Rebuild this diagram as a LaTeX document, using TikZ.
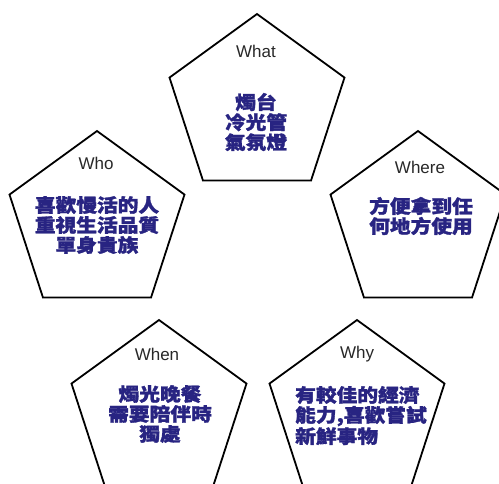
\documentclass[tikz,border=0pt]{standalone}
\usepackage{fontspec}
\setmainfont{Liberation Sans}
\newfontfamily\cjk{Noto Sans CJK TC}[FakeStretch=1.12, BoldFeatures={FakeBold=1.6}]
\usetikzlibrary{shapes.geometric}
\definecolor{navy}{RGB}{40,36,130}
\definecolor{titlegray}{RGB}{40,40,40}
\tikzset{
  penta/.style={regular polygon, regular polygon sides=5, minimum size=184pt,
    inner sep=0pt, draw=black, line width=1.8pt},
  ttl/.style={font=\fontsize{17}{20}\selectfont, text=titlegray, inner sep=0pt},
  body/.style={font=\cjk\bfseries\fontsize{18.5}{20}\selectfont, text=navy,
    align=center, inner sep=0pt},
}
\begin{document}
\begin{tikzpicture}[x=1pt,y=-1pt]
\useasboundingbox (0,0) rectangle (499,483);
\clip (0,0) rectangle (499,483);
\fill[white] (0,0) rectangle (499,483);
% pentagons
\node[penta] (pwhat)  at (257,106) {};
\node[penta] (pwho)   at (97,223) {};
\node[penta] (pwhere) at (418,223) {};
\node[penta] (pwhen)  at (159,412) {};
\node[penta] (pwhy)   at (357,412) {};
% titles
\node[ttl] (twhat)  at (256,51)  {What};
\node[ttl] (twho)   at (96,163)  {Who};
\node[ttl] (twhere) at (420,167) {Where};
\node[ttl] (twhen)  at (157,354) {When};
\node[ttl] (twhy)   at (357,354) {Why};
% bodies
\node[body] (bwhat)  at (256,122) {燭台\\冷光管\\氣氛燈};
\node[body] (bwho)   at (97,225)  {喜歡慢活的人\\重視生活品質\\單身貴族};
\node[body] (bwhere) at (421,216) {方便拿到任\\何地方使用};
\node[body] (bwhen)  at (160,414) {燭光晚餐\\需要陪伴時\\獨處};
\node[body, align=left, anchor=west] (bwhy) at (295,415.5) {有較佳的經濟\\能力,喜歡嘗試\\新鮮事物};
\end{tikzpicture}
\end{document}
